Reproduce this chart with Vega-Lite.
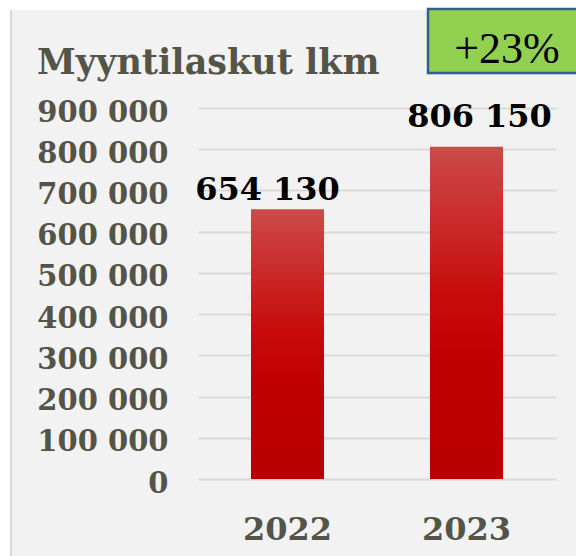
{
  "$schema": "https://vega.github.io/schema/vega-lite/v6.json",
  "width": 358,
  "height": 371,
  "autosize": {"type": "none"},
  "padding": {"left": 198, "top": 108, "right": 20, "bottom": 77},
  "background": "#f2f2f2",
  "config": {
    "view": {"stroke": null},
    "locale": {"number": {"decimal": ",", "thousands": " ", "grouping": [3], "currency": ["", " €"]}}
  },
  "data": {"values": [
    {"year": "2022", "value": 654130},
    {"year": "2023", "value": 806150}
  ]},
  "resolve": {"scale": {"x": "independent", "y": "independent"}},
  "layer": [
    {
      "mark": {"type": "bar", "color": {"gradient": "linear", "x1": 0, "y1": 0, "x2": 0, "y2": 1, "stops": [
        {"offset": 0, "color": "#cd4a4a"},
        {"offset": 0.45, "color": "#c70b0b"},
        {"offset": 0.65, "color": "#c00000"},
        {"offset": 1, "color": "#b70000"}
      ]}},
      "encoding": {
        "x": {"field": "year", "type": "nominal", "sort": null,
          "scale": {"domain": ["2022", "2023"], "paddingInner": 0.592, "paddingOuter": 0.296},
          "axis": {"title": null, "labelAngle": 0, "domain": false, "ticks": false, "grid": false,
            "labelFont": "DejaVu Serif", "labelFontWeight": "bold", "labelFontSize": 32,
            "labelColor": "#545448", "labelPadding": 35, "labelBaseline": "top"}},
        "y": {"field": "value", "type": "quantitative",
          "scale": {"domain": [0, 900000], "nice": false, "zero": true},
          "axis": {"title": null, "values": [0, 100000, 200000, 300000, 400000, 500000, 600000, 700000, 800000, 900000],
            "format": ",d", "domain": false, "ticks": false, "grid": true, "gridColor": "#d9d9d9", "gridWidth": 2,
            "labelFont": "DejaVu Serif", "labelFontWeight": "bold", "labelFontSize": 29,
            "labelColor": "#545448", "labelPadding": 30, "labelOffset": 4}}
      }
    },
    {
      "transform": [{"filter": "datum.year == '2022'"}],
      "mark": {"type": "text", "font": "DejaVu Serif", "fontWeight": "bold", "fontSize": 32, "color": "#000000",
        "align": "center", "baseline": "alphabetic", "dx": -20, "dy": -9},
      "encoding": {
        "x": {"field": "year", "type": "nominal", "scale": {"domain": ["2022", "2023"], "paddingInner": 0.592, "paddingOuter": 0.296}, "axis": null},
        "y": {"field": "value", "type": "quantitative", "scale": {"domain": [0, 900000], "nice": false}, "axis": null},
        "text": {"field": "value", "type": "quantitative", "format": ",d"}
      }
    },
    {
      "transform": [{"filter": "datum.year == '2023'"}],
      "mark": {"type": "text", "font": "DejaVu Serif", "fontWeight": "bold", "fontSize": 32, "color": "#000000",
        "align": "center", "baseline": "alphabetic", "dx": 13, "dy": -20},
      "encoding": {
        "x": {"field": "year", "type": "nominal", "scale": {"domain": ["2022", "2023"], "paddingInner": 0.592, "paddingOuter": 0.296}, "axis": null},
        "y": {"field": "value", "type": "quantitative", "scale": {"domain": [0, 900000], "nice": false}, "axis": null},
        "text": {"field": "value", "type": "quantitative", "format": ",d"}
      }
    },
    {
      "data": {"values": [{}]},
      "mark": {"type": "rect", "fill": "#ffffff", "clip": false},
      "encoding": {
        "x": {"datum": -1, "type": "quantitative", "scale": {"domain": [0, 1], "nice": false, "zero": false}, "axis": null},
        "x2": {"datum": -0.525},
        "y": {"datum": 2000000, "type": "quantitative", "scale": {"domain": [0, 900000], "nice": false}, "axis": null},
        "y2": {"datum": -300000}
      }
    },
    {
      "data": {"values": [{}]},
      "mark": {"type": "rect", "fill": "#ffffff", "clip": false},
      "encoding": {
        "x": {"datum": -1, "type": "quantitative", "scale": {"domain": [0, 1], "nice": false, "zero": false}, "axis": null},
        "x2": {"datum": 1.3},
        "y": {"datum": 2000000, "type": "quantitative", "scale": {"domain": [0, 900000], "nice": false}, "axis": null},
        "y2": {"datum": 1137736}
      }
    },
    {
      "data": {"values": [{}]},
      "mark": {"type": "rect", "fill": "#d8d8d8", "clip": false},
      "encoding": {
        "x": {"datum": -0.525, "type": "quantitative", "scale": {"domain": [0, 1], "nice": false, "zero": false}, "axis": null},
        "x2": {"datum": -0.5194},
        "y": {"datum": 1137736, "type": "quantitative", "scale": {"domain": [0, 900000], "nice": false}, "axis": null},
        "y2": {"datum": -300000}
      }
    },
    {
      "data": {"values": [{}]},
      "mark": {"type": "rect", "fill": "#92d050", "stroke": "#2e5f8e", "strokeWidth": 2.5, "clip": false},
      "encoding": {
        "x": {"datum": 0.6425, "type": "quantitative", "scale": {"domain": [0, 1], "nice": false, "zero": false}, "axis": null},
        "x2": {"datum": 1.2},
        "y": {"datum": 1140162, "type": "quantitative", "scale": {"domain": [0, 900000], "nice": false}, "axis": null},
        "y2": {"datum": 984906}
      }
    },
    {
      "data": {"values": [{}]},
      "mark": {"type": "text", "text": "+23%", "font": "Liberation Serif, DejaVu Serif, serif", "fontSize": 44, "color": "#000000",
        "align": "center", "baseline": "alphabetic", "clip": false},
      "encoding": {
        "x": {"datum": 0.863, "type": "quantitative", "scale": {"domain": [0, 1], "nice": false, "zero": false}, "axis": null},
        "y": {"datum": 1009164, "type": "quantitative", "scale": {"domain": [0, 900000], "nice": false}, "axis": null}
      }
    },
    {
      "data": {"values": [{}]},
      "mark": {"type": "text", "text": "Myyntilaskut lkm", "font": "DejaVu Serif", "fontWeight": "bold", "fontSize": 35, "color": "#545448",
        "align": "left", "baseline": "alphabetic", "clip": false},
      "encoding": {
        "x": {"datum": -0.4497, "type": "quantitative", "scale": {"domain": [0, 1], "nice": false, "zero": false}, "axis": null},
        "y": {"datum": 982479, "type": "quantitative", "scale": {"domain": [0, 900000], "nice": false}, "axis": null}
      }
    }
  ]
}
